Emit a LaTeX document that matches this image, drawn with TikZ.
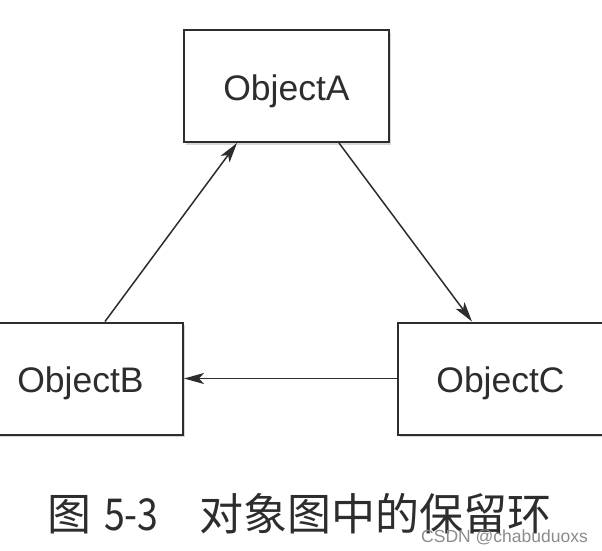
\documentclass[tikz,border=0pt]{standalone}
\usepackage{fontspec}
\newfontfamily\boxfont{Liberation Sans}
\newfontfamily\cjk{Noto Sans CJK SC}
\usetikzlibrary{arrows.meta,shadows}
\definecolor{ink}{RGB}{45,45,45}
\definecolor{mark}{RGB}{140,140,140}

\begin{document}
\begin{tikzpicture}[x=1pt, y=-1pt,
    obj/.style={rectangle, draw=ink, line width=2pt, fill=white, minimum width=205pt, minimum height=112pt, inner sep=0pt,
        font=\boxfont\fontsize{35.5}{40}\selectfont, text=ink, text height=28.4pt, text depth=0pt,
        drop shadow={shadow xshift=1.5pt, shadow yshift=-2.5pt, opacity=0.3}},
    ref/.style={draw=ink, line width=1.5pt, -{Stealth[length=20pt, width=11pt, inset=5pt]}}
]
    \clip (0,0) rectangle (602,550);
    \fill[white] (0,0) rectangle (602,550);

    % Object boxes
    \node[obj] (A) at (286.5, 86) {ObjectA};
    \node[obj] (B) at (80.5, 378.5) {ObjectB};
    \node[obj] (C) at (500.5, 378.5) {ObjectC};

    % Retain cycle
    \draw[ref] ([xshift=24.5pt]B.north) -- ([xshift=-49.5pt]A.south);
    \draw[ref] ([xshift=52.5pt]A.south) -- ([xshift=-28.5pt]C.north);
    \draw[ref] (C.west) -- (B.east);

    % Caption and watermark
    \node[anchor=base west, inner sep=0pt, font=\cjk\fontsize{44}{48}\selectfont, text=ink] (cap) at (47, 530) {图\hspace{13pt}\scalebox{0.85}[1]{5-3}\hspace{41pt}对象图中的保留环};
    \node[anchor=base east, inner sep=0pt, font=\boxfont\fontsize{17.5}{20}\selectfont, text=mark] (wm) at (588, 542) {CSDN @chabuduoxs};
\end{tikzpicture}
\end{document}
